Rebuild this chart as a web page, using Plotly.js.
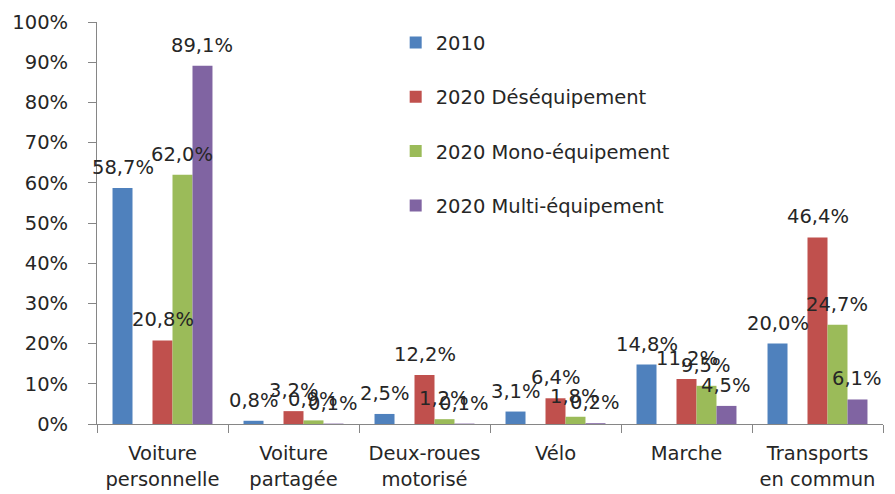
<!DOCTYPE html>
<html>
<head>
<meta charset="utf-8">
<script src="https://cdn.plot.ly/plotly-3.0.1.min.js"></script>
<style>html,body{margin:0;padding:0;background:#fff;}#chart{width:895px;height:494px;}</style>
</head>
<body>
<div id="chart"></div>
<script>
const categories = ["Voiture<br>personnelle", "Voiture<br>partagée", "Deux-roues<br>motorisé", "Vélo", "Marche", "Transports<br>en commun"];
const seriesNames = ["2010", "2020 Déséquipement", "2020 Mono-équipement", "2020 Multi-équipement"];
const v2010 = [58.7, 0.8, 2.5, 3.1, 14.8, 20.0];
const vDesequip = [20.8, 3.2, 12.2, 6.4, 11.2, 46.4];
const vMono = [62.0, 0.9, 1.2, 1.8, 9.5, 24.7];
const vMulti = [89.1, 0.1, 0.1, 0.2, 4.5, 6.1];
const yTicks = [0, 10, 20, 30, 40, 50, 60, 70, 80, 90, 100];

const colors = ["#4F81BD", "#C0504D", "#9BBB59", "#8064A2"];
const FONT = "DejaVu Sans";
const FS = 19.5;
const TXT = '#262626';
const fmt = v => v.toFixed(1).replace('.', ',') + '%';

const W = 895, H = 494;
const M = {l: 97, r: 12, t: 22, b: 70};
const BARGAP = 0.237;
const NSLOTS = 5; // 4 series + 1 empty slot (as in the original)

function barTrace(name, vals, color, group) {
  return {
    type: 'bar', name: name, x: categories, y: vals,
    marker: {color: color},
    legendgroup: group, hoverinfo: 'skip'
  };
}

const seriesVals = [v2010, vDesequip, vMono, vMulti];
const seriesSlot = [0, 2, 3, 4];

const traces = [
  barTrace(seriesNames[0], v2010, colors[0], 'a'),
  {type: 'bar', name: '', x: categories, y: categories.map(() => null), showlegend: false, hoverinfo: 'skip'},
  barTrace(seriesNames[1], vDesequip, colors[1], 'b'),
  barTrace(seriesNames[2], vMono, colors[2], 'c'),
  barTrace(seriesNames[3], vMulti, colors[3], 'd')
];

// data labels as annotations so that they are drawn on top of all bars
const catPx = (W - M.l - M.r) / categories.length;
const slotPx = catPx * (1 - BARGAP) / NSLOTS;
const annotations = [];
seriesVals.forEach((vals, si) => {
  const shift = (seriesSlot[si] - (NSLOTS - 1) / 2) * slotPx;
  vals.forEach((v, ci) => {
    annotations.push({
      x: categories[ci], y: v, xref: 'x', yref: 'y',
      text: fmt(v), showarrow: false,
      xanchor: 'center', yanchor: 'bottom',
      xshift: shift, yshift: 7,
      font: {family: FONT, size: FS, color: TXT}
    });
  });
});

const layout = {
  width: W, height: H,
  margin: M,
  paper_bgcolor: '#ffffff', plot_bgcolor: '#ffffff',
  barmode: 'group', bargap: BARGAP, bargroupgap: 0,
  showlegend: true,
  font: {family: FONT, size: FS, color: TXT},
  legend: {
    x: 0.38, y: 0.997, xanchor: 'left', yanchor: 'top',
    traceorder: 'grouped', tracegroupgap: 26,
    font: {family: FONT, size: FS, color: TXT},
    bgcolor: 'rgba(0,0,0,0)'
  },
  annotations: annotations,
  xaxis: {
    type: 'category', range: [-0.5, categories.length - 0.5],
    showgrid: false, zeroline: false, automargin: false,
    showline: true, linecolor: '#868686', linewidth: 1,
    ticks: 'outside', tickson: 'boundaries', ticklen: 8, tickcolor: '#868686',
    ticklabelstandoff: 12,
    tickfont: {family: FONT, size: FS, color: TXT}
  },
  yaxis: {
    range: [0, 100], tickmode: 'array', tickvals: yTicks,
    ticktext: yTicks.map(t => t + '%'),
    showgrid: false, zeroline: false, automargin: false,
    showline: true, linecolor: '#868686', linewidth: 1,
    ticks: 'outside', ticklen: 8, tickcolor: '#868686',
    ticklabelstandoff: 16,
    tickfont: {family: FONT, size: FS, color: TXT}
  }
};

Plotly.newPlot('chart', traces, layout, {staticPlot: true, displayModeBar: false});
</script>
</body>
</html>
